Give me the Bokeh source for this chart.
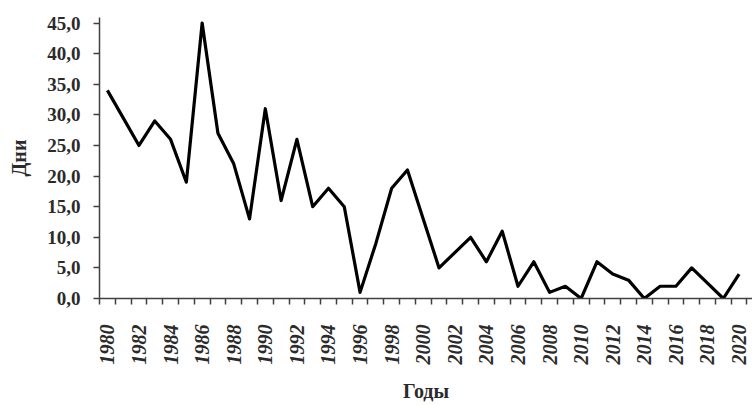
import math
from bokeh.plotting import figure
from bokeh.models import FixedTicker, Range1d
from bokeh.embed import file_html
from bokeh.resources import INLINE

# ---- data ----
years = list(range(1980, 2021))
days = [34, 29.5, 25, 29, 26, 19, 45, 27, 22, 13,
        31, 16, 26, 15, 18, 15, 1, 9, 18, 21,
        13, 5, 7.5, 10, 6, 11, 2, 6, 1, 2,
        0, 6, 4, 3, 0, 2, 2, 5, 2.5, 0,
        4]
x_label_years = list(range(1980, 2021, 2))
y_ticks = [0, 5, 10, 15, 20, 25, 30, 35, 40, 45]
y_tick_labels = ["0,0", "5,0", "10,0", "15,0", "20,0", "25,0", "30,0", "35,0", "40,0", "45,0"]
x_title = "Годы"
y_title = "Дни"

FONT = "Liberation Serif"
TXT = "#2b2b2b"
AX = "#404040"

p = figure(width=752, height=405,
           x_range=Range1d(1979.5, 2020.85), y_range=Range1d(0, 45.9),
           output_backend="svg", toolbar_location=None,
           min_border_left=99, min_border_right=0,
           min_border_top=17, min_border_bottom=107)
p.outline_line_color = None
p.xgrid.grid_line_color = None
p.ygrid.grid_line_color = None
p.background_fill_color = "white"
p.border_fill_color = "white"

p.line(years, days, line_color="black", line_width=3.2, line_join="round")

# x axis
xa = p.xaxis[0]
xa.ticker = FixedTicker(ticks=x_label_years,
                        minor_ticks=[y - 0.5 for y in range(1980, 2022)])
xa.major_tick_out = 0
xa.major_tick_in = 0
xa.minor_tick_out = 6
xa.minor_tick_in = 0
xa.minor_tick_line_color = AX
xa.minor_tick_line_width = 1.5
xa.axis_line_color = AX
xa.axis_line_width = 1.5
xa.major_label_orientation = math.pi / 2
xa.major_label_standoff = 20
xa.major_label_text_font = FONT
xa.major_label_text_font_style = "bold italic"
xa.major_label_text_font_size = "20px"
xa.major_label_text_color = TXT
xa.axis_label = x_title
xa.axis_label_text_font = FONT
xa.axis_label_text_font_style = "bold"
xa.axis_label_text_font_size = "20px"
xa.axis_label_text_color = TXT
xa.axis_label_standoff = 12

# y axis
ya = p.yaxis[0]
ya.ticker = FixedTicker(ticks=y_ticks)
ya.major_label_overrides = {t: l for t, l in zip(y_ticks, y_tick_labels)}
ya.major_tick_out = 6
ya.major_tick_in = 0
ya.minor_tick_out = 0
ya.minor_tick_in = 0
ya.major_tick_line_color = AX
ya.major_tick_line_width = 1.5
ya.axis_line_color = AX
ya.axis_line_width = 1.5
ya.major_label_standoff = 13
ya.major_label_text_font = FONT
ya.major_label_text_font_style = "bold"
ya.major_label_text_font_size = "19px"
ya.major_label_text_color = TXT
ya.axis_label = y_title
ya.axis_label_text_font = FONT
ya.axis_label_text_font_style = "bold"
ya.axis_label_text_font_size = "20px"
ya.axis_label_text_color = TXT
ya.axis_label_standoff = 14

open("out.html", "w").write(file_html(p, INLINE))
